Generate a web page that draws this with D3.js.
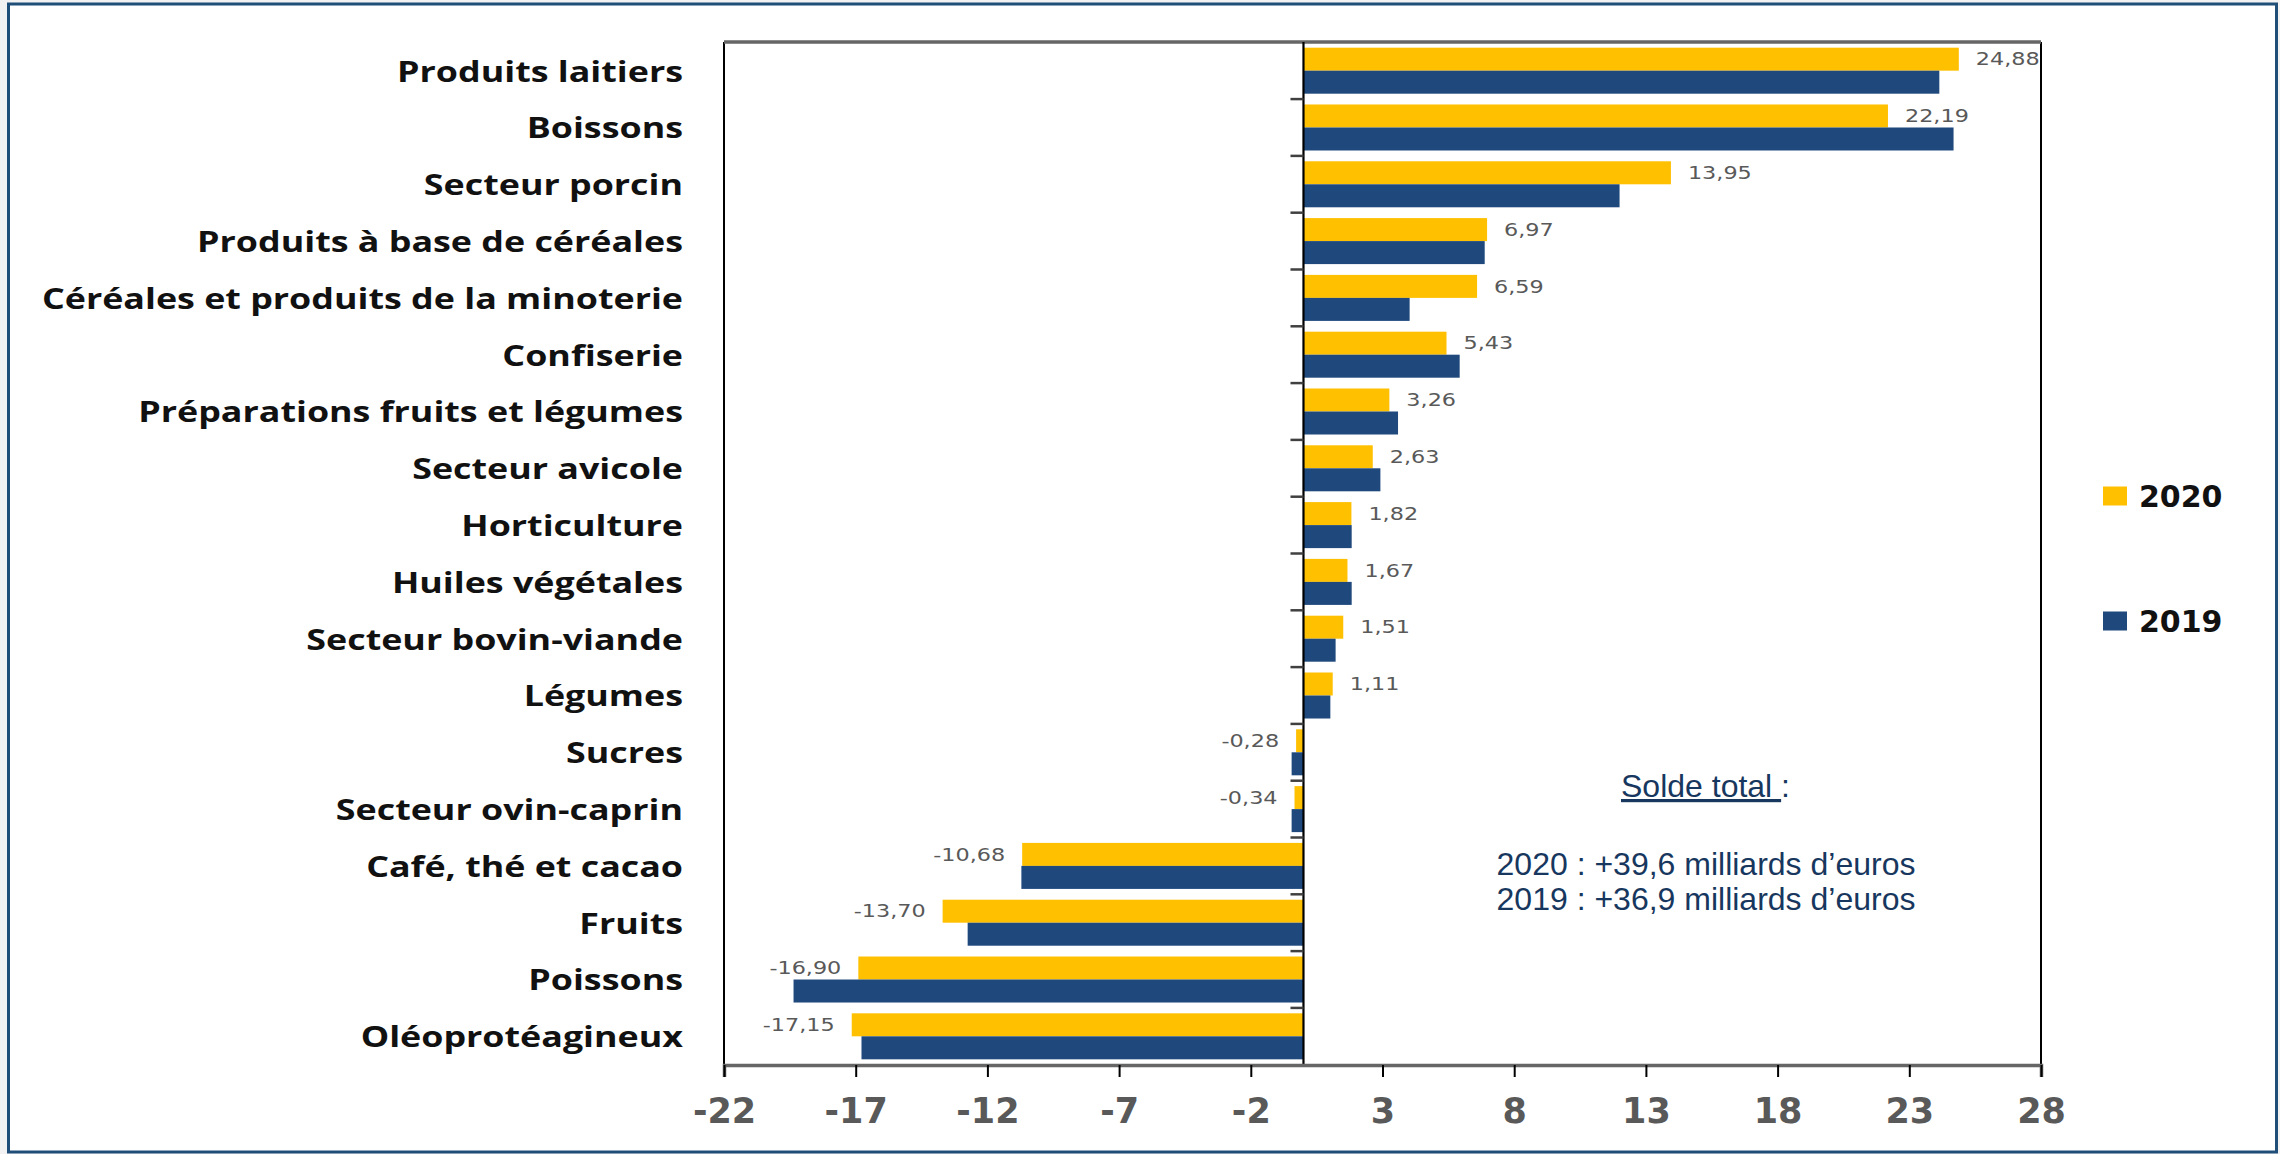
<!DOCTYPE html>
<html><head><meta charset="utf-8">
<script src="https://cdn.jsdelivr.net/npm/d3@7/dist/d3.min.js"></script>
<style>body{margin:0;background:#fff;overflow:hidden}</style>
</head><body>
<svg id="chart" width="2280" height="1154"></svg>
<script>
const categories = ["Produits laitiers","Boissons","Secteur porcin","Produits à base de céréales","Céréales et produits de la minoterie","Confiserie","Préparations fruits et légumes","Secteur avicole","Horticulture","Huiles végétales","Secteur bovin-viande","Légumes","Sucres","Secteur ovin-caprin","Café, thé et cacao","Fruits","Poissons","Oléoprotéagineux"];
const values2020 = [24.88,22.19,13.95,6.97,6.59,5.43,3.26,2.63,1.82,1.67,1.51,1.11,-0.28,-0.34,-10.68,-13.70,-16.90,-17.15];
const values2019 = [24.14,24.68,12.0,6.88,4.03,5.93,3.59,2.92,1.83,1.83,1.22,1.02,-0.45,-0.45,-10.71,-12.75,-19.36,-16.78];
const seriesNames = ["2020","2019"];
const seriesColors = ["#FFC000","#1F497D"];
const xTicks = [-22,-17,-12,-7,-2,3,8,13,18,23,28];
const noteTitle = "Solde total";
const noteLines = ["2020 : +39,6 milliards d’euros","2019 : +36,9 milliards d’euros"];

const locale = d3.formatLocale({decimal:",",thousands:" ",grouping:[3],currency:["","€"],minus:"-"});
const fmtLabel = locale.format(".2f");
const fmtTick = locale.format("d");

const svg = d3.select("#chart");
const W = 2280, H = 1154;
const plot = {left:724, right:2041, top:42, bottom:1065};

// outer frame
svg.append("rect").attr("x",0).attr("y",0).attr("width",W).attr("height",H).attr("fill","#f2f2f2");
svg.append("rect").attr("x",8.5).attr("y",4).attr("width",2268).attr("height",1148)
  .attr("fill","#fff").attr("stroke","#1F4E79").attr("stroke-width",3);

const x = d3.scaleLinear().domain([xTicks[0], xTicks[xTicks.length-1]]).range([plot.left, plot.right]);
const y = d3.scaleBand().domain(categories).range([plot.top, plot.bottom]).paddingInner(0.19).paddingOuter(0.1);
const ySub = d3.scaleBand().domain(seriesNames).range([0, y.bandwidth()]);

const data = categories.map((c,i)=>({cat:c, vals:[{s:"2020",v:values2020[i]},{s:"2019",v:values2019[i]}]}));

// bars
const g = svg.append("g");
const groups = g.selectAll("g.cat").data(data).join("g").attr("class","cat")
  .attr("transform", d=>`translate(0,${y(d.cat)})`);
groups.selectAll("rect").data(d=>d.vals).join("rect")
  .attr("x", d=>x(Math.min(0,d.v)))
  .attr("width", d=>Math.abs(x(d.v)-x(0)))
  .attr("y", d=>ySub(d.s))
  .attr("height", ySub.bandwidth())
  .attr("fill", (d,i)=>seriesColors[i]);

// data labels (2020)
groups.append("text")
  .attr("transform", d=>{
    const v = d.vals[0].v;
    const xx = v>=0 ? x(v)+17 : x(v)-17;
    return `translate(${xx},${ySub("2020")+ySub.bandwidth()/2}) scale(1.24,1)`;
  })
  .attr("text-anchor", d=>d.vals[0].v>=0?"start":"end")
  .attr("dominant-baseline","central")
  .attr("font-family","DejaVu Sans, Verdana, sans-serif")
  .attr("font-size",18)
  .attr("fill","#595959")
  .text(d=>fmtLabel(d.vals[0].v));

// plot frame: left & right black, top gray
svg.append("line").attr("x1",plot.left).attr("x2",plot.left).attr("y1",plot.top).attr("y2",plot.bottom+12)
  .attr("stroke","#000").attr("stroke-width",2);
svg.append("line").attr("x1",plot.right).attr("x2",plot.right).attr("y1",plot.top).attr("y2",plot.bottom+12)
  .attr("stroke","#000").attr("stroke-width",2);
svg.append("line").attr("x1",plot.left).attr("x2",plot.right).attr("y1",plot.top).attr("y2",plot.top)
  .attr("stroke","#666").attr("stroke-width",3.5);

// zero line
svg.append("line").attr("x1",x(0)).attr("x2",x(0)).attr("y1",plot.top).attr("y2",plot.bottom)
  .attr("stroke","#000").attr("stroke-width",2.2);

// category boundary ticks on zero line
const bounds = categories.slice(1).map(c=>y(c) - (y.step()-y.bandwidth())/2);
svg.append("g").selectAll("line").data(bounds).join("line")
  .attr("x1",x(0)-13).attr("x2",x(0)).attr("y1",d=>d).attr("y2",d=>d)
  .attr("stroke","#404040").attr("stroke-width",2.5);

// category labels
svg.append("g").selectAll("text").data(categories).join("text")
  .attr("transform", d=>`translate(683,${y(d)+y.bandwidth()/2}) scale(1.28,1)`)
  .attr("text-anchor","end").attr("dominant-baseline","central")
  .attr("font-family","Open Sans, sans-serif").attr("font-weight","bold")
  .attr("font-size",28).attr("fill","#111").text(d=>d);

// x axis
const xAxis = d3.axisBottom(x).tickValues(xTicks).tickFormat(fmtTick).tickSize(12).tickPadding(21);
const ax = svg.append("g").attr("transform",`translate(0,${plot.bottom})`).call(xAxis);
ax.select(".domain").attr("stroke","#666").attr("stroke-width",3.5);
ax.selectAll(".tick line").attr("stroke","#000").attr("stroke-width",2);
ax.selectAll(".tick text").attr("font-family","DejaVu Sans, Verdana, sans-serif").attr("font-weight","bold")
  .attr("font-size",35).attr("fill","#595959");

// legend
const leg = svg.append("g");
const legY = [496, 621];
seriesNames.forEach((s,i)=>{
  leg.append("rect").attr("x",2103).attr("y",legY[i]-9.5).attr("width",24).attr("height",19).attr("fill",seriesColors[i]);
  leg.append("text").attr("x",2139).attr("y",legY[i]+11)
    .attr("font-family","DejaVu Sans, Verdana, sans-serif").attr("font-weight","bold")
    .attr("font-size",30).attr("fill","#111").text(s);
});

// annotation
const note = svg.append("g").attr("font-family","Liberation Sans, Arial, sans-serif").attr("font-size",32).attr("fill","#17375E");
const t0 = note.append("text").attr("x",1621).attr("y",797);
t0.append("tspan").attr("text-decoration","underline").text(noteTitle + " ");
t0.append("tspan").text(":");
noteLines.forEach((l,i)=>{
  note.append("text").attr("x",1706).attr("y",875+i*35).attr("text-anchor","middle").text(l);
});
</script>
</body></html>
